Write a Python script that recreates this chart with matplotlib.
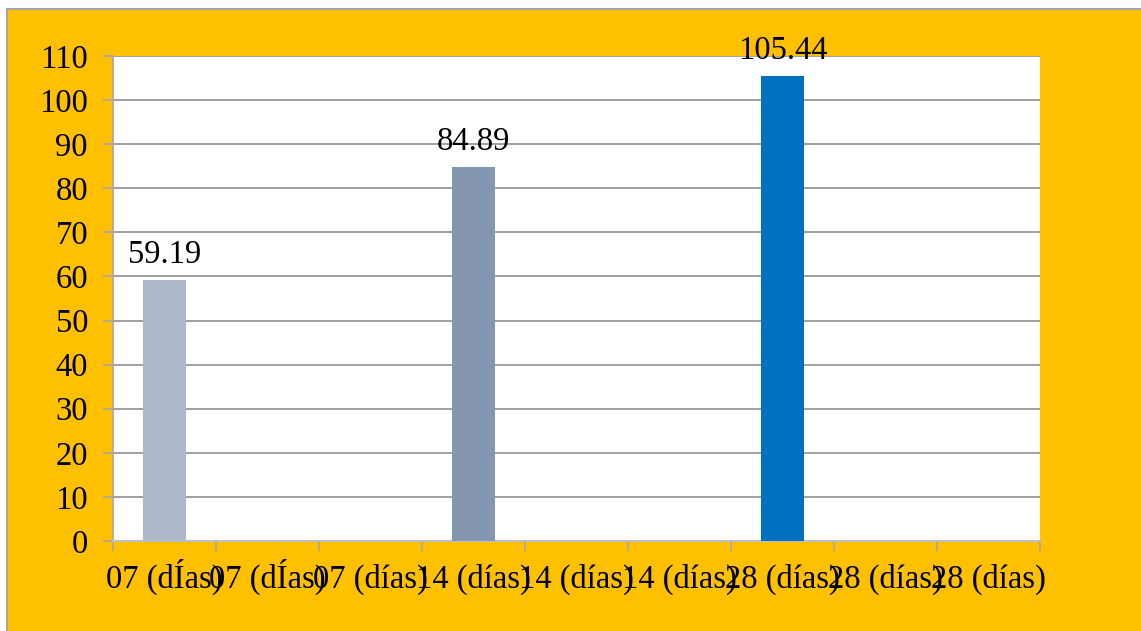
import matplotlib
matplotlib.use("Agg")
import matplotlib.pyplot as plt
from matplotlib.patches import Rectangle
import numpy as np

categories = ["07 (dÍas)", "07 (dÍas)", "07 (días)",
              "14 (días)", "14 (días)", "14 (días)",
              "28 (días)", "28 (días)", "28 (días)"]
values = [59.19, None, None, 84.89, None, None, 105.44, None, None]
bar_colors = ["#ADB9CA", None, None, "#8497B0", None, None, "#0070C0", None, None]
y_ticks = list(range(0, 111, 10))

W, H = 1141, 631
FS = 23.5
fig = plt.figure(figsize=(W / 100, H / 100), dpi=100, facecolor="white")
plt.rcParams["font.family"] = ["Liberation Serif", "DejaVu Serif"]

# orange chart frame with grey border (open to the right and bottom)
fig.patches.append(Rectangle((7 / W, -0.2), 1.2, 1.2 - 9 / H, transform=fig.transFigure,
                             facecolor="#FFC000", edgecolor="#A6A6A6", linewidth=1.5,
                             zorder=-10))

ax = fig.add_axes([113 / W, (H - 541) / H, 927 / W, 485 / H])
ax.set_facecolor("white")

x = np.arange(len(categories))
for i, (v, c) in enumerate(zip(values, bar_colors)):
    if v is None:
        continue
    ax.bar(x[i], v, width=0.41, color=c, zorder=3)
    ax.text(x[i], v + 3.9, f"{v:.2f}", ha="center", va="baseline", fontsize=FS, zorder=4)

ax.set_xlim(-0.5, len(categories) - 0.5)
ax.set_ylim(0, 110)
ax.set_yticks(y_ticks)
ax.yaxis.grid(True, color="#A0A0A0", linewidth=1.4, zorder=1)
ax.set_axisbelow(True)

ax.set_xticks(x)
ax.set_xticklabels(categories)
ax.set_xticks(np.arange(-0.5, len(categories)), minor=True)
ax.tick_params(axis="x", which="major", length=0, pad=34, labelsize=FS)
ax.tick_params(axis="x", which="minor", length=7, width=1.2, color="#A6A6A6")
ax.tick_params(axis="y", length=7, width=1.2, color="#A6A6A6", pad=11, labelsize=FS)
# keep all category labels on a common baseline
for lbl in ax.get_xticklabels():
    lbl.set_verticalalignment("baseline")

for s in ["top", "right"]:
    ax.spines[s].set_visible(False)
ax.spines["left"].set_color("#A6A6A6")
ax.spines["left"].set_linewidth(1.2)
ax.spines["bottom"].set_color("#BFBFBF")
ax.spines["bottom"].set_linewidth(1.5)

fig.savefig("out.png", dpi=100, facecolor=fig.get_facecolor())
